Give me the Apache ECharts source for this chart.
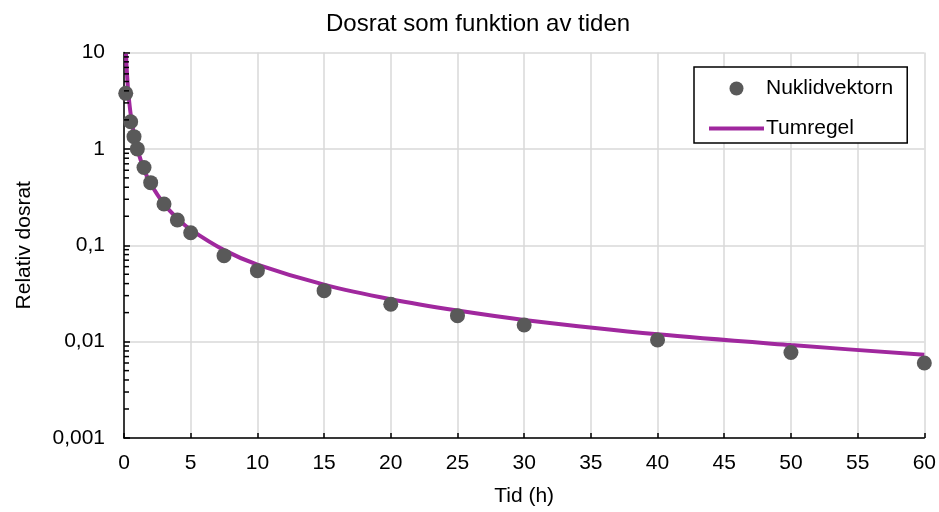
<!DOCTYPE html>
<html><head><meta charset="utf-8">
<script src="https://cdn.jsdelivr.net/npm/echarts@6/dist/echarts.min.js"></script>
<style>html,body{margin:0;padding:0;background:#fff}#c{width:939px;height:512px}</style>
</head><body><div id="c"></div>
<script>
const titleText = 'Dosrat som funktion av tiden';
const xName = 'Tid (h)';
const yName = 'Relativ dosrat';
const seriesNames = ['Nuklidvektorn', 'Tumregel'];
// Nuklidvektorn (scatter)
const nukT = [0.13, 0.5, 0.75, 1, 1.5, 2, 3, 4, 5, 7.5, 10, 15, 20, 25, 30, 40, 50, 60];
const nukV = [3.77, 1.91, 1.34, 1.0, 0.64, 0.446, 0.268, 0.183, 0.135, 0.078, 0.0545, 0.0338, 0.0244, 0.0186, 0.0149, 0.0104, 0.0077, 0.0060];
// Tumregel (line)
const tumT = [0.15, 0.2, 0.3, 0.4, 0.5, 0.75, 1, 1.5, 2, 3, 4, 5, 7.5, 10, 15, 20, 25, 30, 40, 50, 60];
const tumV = [9.7, 6.9, 4.2, 3.0, 2.3, 1.41, 1.0, 0.61, 0.435, 0.268, 0.19, 0.145, 0.089, 0.063, 0.039, 0.0275, 0.021, 0.0168, 0.0119, 0.0092, 0.0073];
const xTicks = [0, 5, 10, 15, 20, 25, 30, 35, 40, 45, 50, 55, 60];
const yTickLabels = {'0.001':'0,001','0.01':'0,01','0.1':'0,1','1':'1','10':'10'};
const minorTickVals = [];
[0.001, 0.01, 0.1, 1].forEach(d => { for (let m = 2; m <= 9; m++) minorTickVals.push(+(d * m).toPrecision(3)); });

const FONT = 'Liberation Sans';
const FS = 21;
const chart = echarts.init(document.getElementById('c'), null, {renderer: 'canvas'});
chart.setOption({
  animation: false,
  backgroundColor: '#fff',
  textStyle: {fontFamily: FONT},
  title: {text: titleText, left: 321, top: 7,
    textStyle: {fontFamily: FONT, fontSize: 24, fontWeight: 'normal', color: '#000'}},
  grid: {left: 124, right: 14, top: 52.5, bottom: 74},
  legend: {
    orient: 'vertical', left: 694, top: 67,
    data: [
      {name: seriesNames[0], icon: 'circle'},
      {name: seriesNames[1], itemStyle: {opacity: 0, color: 'transparent'}, lineStyle: {width: 4, color: '#A0289E'}}
    ],
    itemWidth: 55, itemHeight: 14, itemGap: 19,
    padding: [11, 14, 4, 13],
    backgroundColor: '#fff', borderColor: '#000', borderWidth: 1.5,
    textStyle: {fontFamily: FONT, fontSize: FS, color: '#000', padding: [0,0,0,-3]}
  },
  xAxis: {
    type: 'value', min: 0, max: 60, interval: 5,
    name: xName, nameLocation: 'middle', nameGap: 48,
    nameTextStyle: {fontFamily: FONT, fontSize: FS, color: '#000'},
    axisLine: {show: true, onZero: false, lineStyle: {color: '#000', width: 1.5}},
    axisTick: {show: true, inside: true, length: 5, lineStyle: {color: '#000', width: 1.5}},
    axisLabel: {margin: 15, fontFamily: FONT, fontSize: FS, color: '#000'},
    splitLine: {show: true, lineStyle: {color: '#d9d9d9', width: 1.5}}
  },
  yAxis: {
    type: 'log', logBase: 10, min: 0.001, max: 10,
    name: yName, nameLocation: 'middle', nameGap: 89,
    nameTextStyle: {fontFamily: FONT, fontSize: FS, color: '#000'},
    axisLine: {show: true, lineStyle: {color: '#000', width: 1.5}},
    axisTick: {show: true, inside: true, length: 6, lineStyle: {color: '#000', width: 1.5}},
    axisLabel: {margin: 19, fontFamily: FONT, fontSize: FS, color: '#000',
      formatter: v => yTickLabels[String(+v.toPrecision(3))] || String(v).replace('.', ',')},
    splitLine: {show: true, lineStyle: {color: '#d9d9d9', width: 1.5}}
  },
  series: [
    {
      name: 'minorTicks', type: 'custom', silent: true, z: 5,
      data: minorTickVals.map(v => [0, v]),
      renderItem: (params, api) => {
        const p = api.coord([0, api.value(1)]);
        return {type: 'line', shape: {x1: p[0], y1: p[1], x2: p[0] + 5, y2: p[1]},
          style: {stroke: '#000', lineWidth: 1.5}};
      }
    },
    {
      name: seriesNames[1], type: 'line', symbol: 'none', smooth: 0.3, z: 3,
      lineStyle: {color: '#A0289E', width: 4}, itemStyle: {color: '#A0289E'},
      data: tumT.map((t, i) => [t, tumV[i]])
    },
    {
      name: seriesNames[0], type: 'scatter', symbol: 'circle', symbolSize: 15, z: 4,
      itemStyle: {color: '#595959', opacity: 1},
      data: nukT.map((t, i) => [t, nukV[i]])
    }
  ]
});
</script></body></html>
